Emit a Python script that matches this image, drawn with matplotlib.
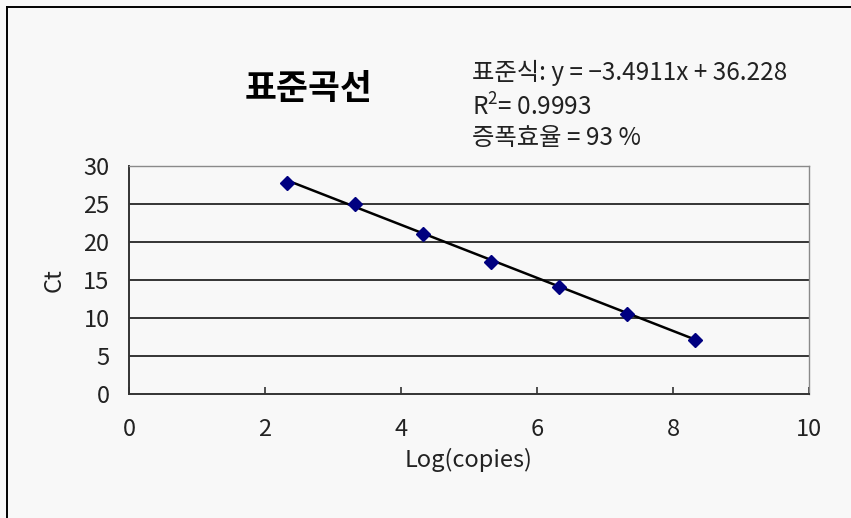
import matplotlib
matplotlib.use("Agg")
import matplotlib.pyplot as plt
from matplotlib.lines import Line2D
import numpy as np


# qPCR standard curve: log copy number vs. threshold cycle
log_copies = [2.33, 3.33, 4.33, 5.33, 6.33, 7.33, 8.33]
ct_values = [27.8, 25.0, 21.0, 17.4, 14.1, 10.5, 7.1]

slope = -3.4911
intercept = 36.228
r_squared = 0.9993
efficiency = 93

x_ticks = [0, 2, 4, 6, 8, 10]
y_ticks = [0, 5, 10, 15, 20, 25, 30]

plt.rcParams["font.family"] = ["Noto Sans CJK KR", "DejaVu Sans"]
plt.rcParams["mathtext.default"] = "regular"

BG = "#f8f8f8"
TEXT = "#222222"

fig = plt.figure(
    figsize=(8.51, 5.18),
    dpi=100,
    facecolor=BG
)

ax = fig.add_axes(
    [129 / 851, 124 / 518, 680 / 851, 228 / 518]
)
ax.set_facecolor(BG)

# gridlines at every major y step
for y in y_ticks[1:-1]:
    ax.axhline(y, color="black", lw=1.1, zorder=1)

# trendline from the fitted equation, spanning the data range
fit_x = np.array([log_copies[0], log_copies[-1]])
fit_y = slope * fit_x + intercept
ax.plot(fit_x, fit_y, color="black", lw=1.8, zorder=2)

ax.plot(
    log_copies,
    ct_values,
    linestyle="none",
    marker="D",
    markersize=7,
    color="#000080",
    zorder=3
)

ax.set_xlim(0, 10)
ax.set_ylim(0, 30)
ax.set_xticks(x_ticks)
ax.set_yticks(y_ticks)

ax.tick_params(
    axis="x",
    direction="in",
    length=5,
    width=1.2,
    color="#333333",
    pad=17,
    labelsize=17,
    labelcolor=TEXT
)
ax.tick_params(
    axis="y",
    length=0,
    pad=14,
    labelsize=17,
    labelcolor=TEXT
)

for side in ["left", "bottom"]:
    ax.spines[side].set_color("#333333")
    ax.spines[side].set_linewidth(1.4)
for side in ["top", "right"]:
    ax.spines[side].set_color("#8a8a8a")
    ax.spines[side].set_linewidth(1.0)

ax.set_xlabel("Log(copies)", fontsize=17, color=TEXT, labelpad=5)
ax.set_ylabel("Ct", fontsize=17, color=TEXT, labelpad=13)

fig.text(
    309 / 851, 1 - 89 / 518,
    "표준곡선",
    fontsize=25,
    fontweight="bold",
    ha="center",
    va="center"
)

ann_x = 472 / 851
fig.text(
    ann_x, 1 - 73 / 518,
    f"표준식: y = {slope}x + {intercept}".replace("-", "\u2212"),
    fontsize=17.5,
    ha="left",
    va="center",
    color=TEXT
)
fig.text(
    ann_x, 1 - 108 / 518,
    f"R$^{{2}}$= {r_squared}",
    fontsize=17.5,
    ha="left",
    va="center",
    color=TEXT
)
fig.text(
    ann_x, 1 - 138 / 518,
    f"증폭효율 = {efficiency} %",
    fontsize=17.5,
    ha="left",
    va="center",
    color=TEXT
)

# chart frame (left and top edges visible)
fig.add_artist(Line2D([7 / 851, 7 / 851], [0, 1 - 7 / 518],
                      transform=fig.transFigure, color="black", lw=1.4))
fig.add_artist(Line2D([7 / 851, 1], [1 - 7 / 518, 1 - 7 / 518],
                      transform=fig.transFigure, color="black", lw=1.4))

fig.savefig("out.png", dpi=100, facecolor=BG)
plt.close(fig)
